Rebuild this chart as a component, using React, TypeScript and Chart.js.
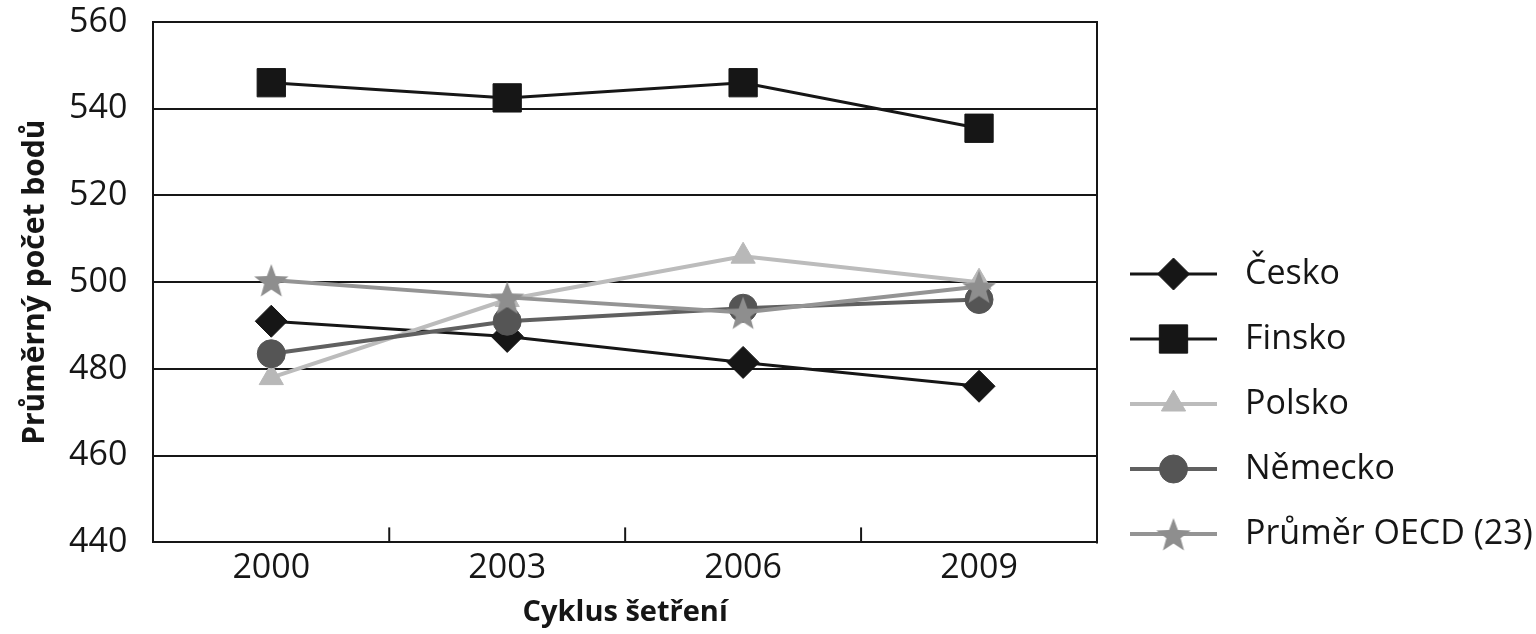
import React, { useEffect, useRef } from "react";
import { Chart, registerables } from "chart.js";
import { drawPoint } from "chart.js/helpers";

Chart.register(...registerables);

// ---- data ----
const categories = ["2000", "2003", "2006", "2009"];
const ceskoValues = [491, 487.5, 481.5, 476];
const finskoValues = [546, 542.5, 546, 535.5];
const polskoValues = [478, 496, 506, 500];
const nemeckoValues = [483.5, 491, 494, 496];
const oecdValues = [500.5, 496.5, 493, 499];
const seriesNames = ["Česko", "Finsko", "Polsko", "Německo", "Průměr OECD (23)"];
const yTickValues = [440, 460, 480, 500, 520, 540, 560];
const xTitle = "Cyklus šetření";
const yTitle = "Průměrný počet bodů";

const FONT = "'Open Sans', 'Noto Sans', sans-serif";
const INK = "#161616";

function makeStar(fill: string, outer: number, inner: number) {
  const c = document.createElement("canvas");
  const s = Math.ceil(outer * 2) + 2;
  c.width = s;
  c.height = s;
  const g = c.getContext("2d")!;
  g.beginPath();
  for (let k = 0; k < 10; k++) {
    const r = k % 2 === 0 ? outer : inner;
    const a = -Math.PI / 2 + (k * Math.PI) / 5;
    const px = s / 2 + r * Math.cos(a);
    const py = s / 2 + 2 + r * Math.sin(a);
    if (k === 0) g.moveTo(px, py);
    else g.lineTo(px, py);
  }
  g.closePath();
  g.fillStyle = fill;
  g.fill();
  return c;
}

const framePlugin = {
  id: "frameTicksLegend",
  afterDraw(chart: any) {
    const { ctx, chartArea } = chart;
    const xs = chart.scales.x;
    ctx.save();
    // right border of plot frame
    ctx.strokeStyle = INK;
    ctx.lineWidth = 2;
    ctx.beginPath();
    ctx.moveTo(chartArea.right, chartArea.top - 1);
    ctx.lineTo(chartArea.right, chartArea.bottom + 1);
    ctx.stroke();
    // inward tick marks between categories
    for (let i = 0; i < categories.length - 1; i++) {
      const x = (xs.getPixelForValue(i) + xs.getPixelForValue(i + 1)) / 2;
      ctx.beginPath();
      ctx.moveTo(x, chartArea.bottom);
      ctx.lineTo(x, chartArea.bottom - 15);
      ctx.stroke();
    }
    // legend
    chart.data.datasets.forEach((ds: any, i: number) => {
      const y = chartArea.top + 252 + i * 65;
      const x0 = chartArea.right + 33;
      const x1 = x0 + 87;
      ctx.strokeStyle = ds.borderColor;
      ctx.lineWidth = ds.borderWidth;
      ctx.beginPath();
      ctx.moveTo(x0, y);
      ctx.lineTo(x1, y);
      ctx.stroke();
      ctx.fillStyle = ds.pointBackgroundColor;
      ctx.strokeStyle = ds.pointBorderColor;
      ctx.lineWidth = 1;
      drawPoint(
        ctx,
        { pointStyle: ds.pointStyle, radius: ds.pointRadius, rotation: 0, borderWidth: 1 },
        (x0 + x1) / 2,
        y
      );
      ctx.fillStyle = INK;
      ctx.font = `34px ${FONT}`;
      ctx.textAlign = "left";
      ctx.textBaseline = "middle";
      ctx.fillText(ds.label, x0 + 115, y);
    });
    ctx.restore();
  },
};

export default function App() {
  const ref = useRef<HTMLCanvasElement | null>(null);

  useEffect(() => {
    if (!ref.current) return;
    const star = makeStar("#8e8e8e", 18, 7.5);
    const mk = (
      label: string,
      data: number[],
      color: string,
      pointColor: string,
      pointStyle: any,
      pointRadius: number,
      width: number,
      order: number
    ) => ({
      label,
      data,
      borderColor: color,
      backgroundColor: pointColor,
      pointBackgroundColor: pointColor,
      pointBorderColor: pointColor,
      pointBorderWidth: 1,
      pointStyle,
      pointRadius,
      pointHoverRadius: pointRadius,
      borderWidth: width,
      tension: 0,
      order,
    });
    const chart = new Chart(ref.current, {
      type: "line",
      data: {
        labels: categories,
        datasets: [
          mk(seriesNames[0], ceskoValues, INK, INK, "rectRot", 16, 3, 4),
          mk(seriesNames[1], finskoValues, INK, INK, "rect", 20, 3, 3),
          mk(seriesNames[2], polskoValues, "#bcbcbc", "#b8b8b8", "triangle", 14, 4, 2),
          mk(seriesNames[3], nemeckoValues, "#606060", "#555555", "circle", 14, 4, 1),
          mk(seriesNames[4], oecdValues, "#949494", "#8e8e8e", star, 18, 4, 0),
        ],
      },
      options: {
        animation: false,
        responsive: true,
        maintainAspectRatio: false,
        events: [],
        layout: { autoPadding: false, padding: { left: 8, right: 439, top: 22, bottom: 0 } },
        plugins: {
          legend: { display: false },
          tooltip: { enabled: false },
        },
        scales: {
          x: {
            type: "category",
            offset: true,
            grid: { display: false, drawTicks: false },
            border: { display: true, color: INK, width: 2 },
            ticks: { color: INK, font: { family: FONT, size: 34 }, padding: 6 },
            title: {
              display: true,
              text: xTitle,
              color: INK,
              font: { family: FONT, size: 29, weight: "bold" },
              padding: { top: 0, bottom: 4 },
            },
          },
          y: {
            min: 440,
            max: 560,
            afterBuildTicks: (scale: any) => {
              scale.ticks = yTickValues.map((v) => ({ value: v }));
            },
            afterFit: (scale: any) => {
              scale.paddingTop = 0;
              scale.paddingBottom = 0;
            },
            grid: { color: INK, lineWidth: 2, drawTicks: false },
            border: { display: true, color: INK, width: 2 },
            ticks: { color: INK, font: { family: FONT, size: 34 }, padding: 26 },
            title: {
              display: true,
              text: yTitle,
              color: INK,
              font: { family: FONT, size: 30, weight: "bold" },
              padding: { top: 9, bottom: -10 },
            },
          },
        },
      },
      plugins: [framePlugin],
    });
    return () => chart.destroy();
  }, []);

  return (
    <div style={{ position: "absolute", left: 0, top: 0, width: 1536, height: 634, background: "#fff" }}>
      <canvas ref={ref} />
    </div>
  );
}
